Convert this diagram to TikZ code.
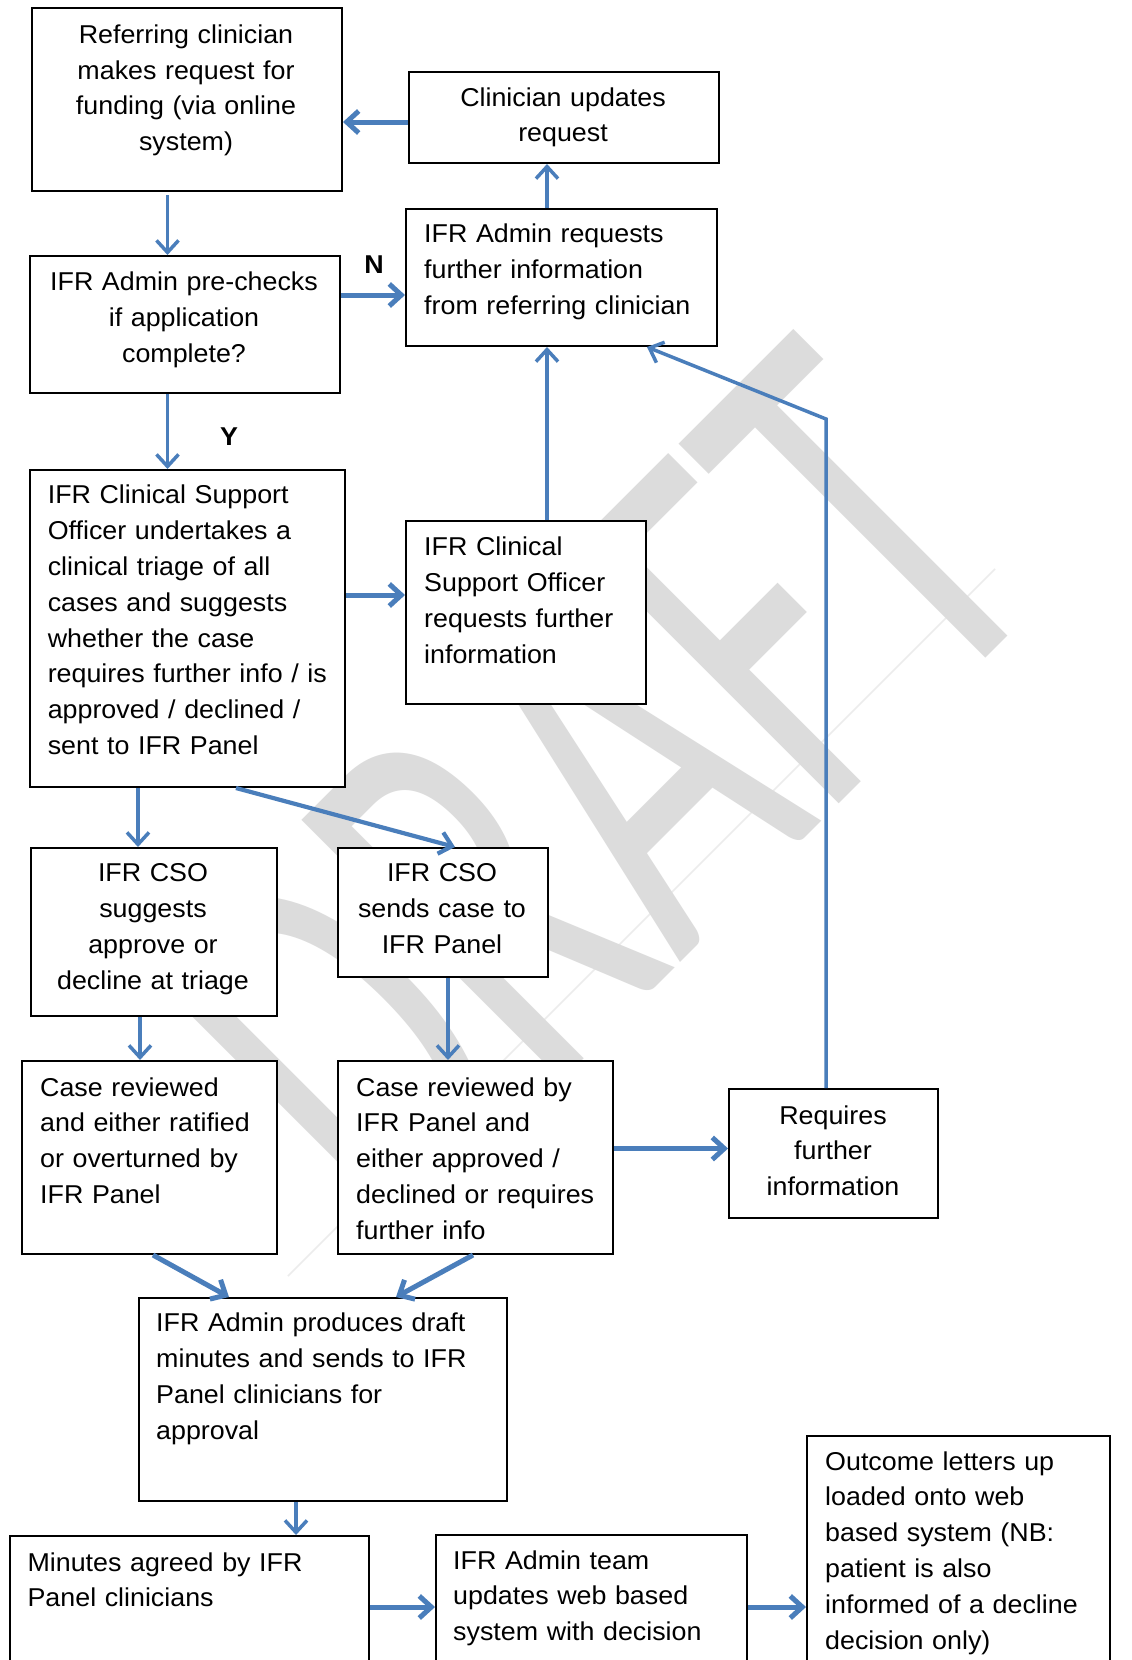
\documentclass[tikz,border=0pt]{standalone}
\usepackage{fontspec}
\setmainfont{Liberation Sans}[FakeStretch=1.04]
\newfontfamily\wmfont{Carlito}
\usetikzlibrary{arrows.meta}
\definecolor{conn}{RGB}{74,126,187}
\definecolor{wm}{RGB}{220,220,220}
\definecolor{wmline}{RGB}{236,236,236}
\begin{document}
\begin{tikzpicture}[x=1pt,y=-1pt,
  box/.style={draw=black, line width=2pt, fill=white, inner sep=0pt, anchor=north west},
  txt/.style={inner sep=0pt, font=\fontsize{25.8}{35.8}\selectfont},
  ltxt/.style={txt, anchor=base west, align=left, text width=330pt},
  ctxt/.style={txt, anchor=base, align=center, text width=300pt},
  arr/.style={draw=conn, line width=3.5pt, -{Straight Barb[length=12pt,width=22pt]}},
  tarr/.style={arr, line width=5pt},
  lbl/.style={inner sep=0pt, font=\fontsize{25.8}{30}\selectfont\bfseries}
]
\useasboundingbox (0,0) rectangle (1132,1660);
\clip (0,0) rectangle (1132,1660);
\fill[white] (0,0) rectangle (1132,1660);

% watermark
\draw[wmline, line width=1.5pt] (288,1276) -- (995,569);
\begin{scope}[shift={(724.6,918.4)}, rotate=45, yscale=1.64]
  \node[transform shape, anchor=base, text=wm, inner sep=0pt,
        font=\wmfont\fontsize{350}{360}\selectfont] (wmk) at (0,0) {DRAFT};
\end{scope}

% boxes
\node[box, minimum width=310pt, minimum height=183pt] (ref) at (31,7) {};
\node[box, minimum width=310pt, minimum height=91pt] (upd) at (408,71) {};
\node[box, minimum width=310pt, minimum height=137pt] (pre) at (29,255) {};
\node[box, minimum width=311pt, minimum height=137pt] (req) at (405,208) {};
\node[box, minimum width=315pt, minimum height=317pt] (tri) at (29,469) {};
\node[box, minimum width=240pt, minimum height=183pt] (csoreq) at (405,520) {};
\node[box, minimum width=246pt, minimum height=168pt] (sug) at (30,847) {};
\node[box, minimum width=210pt, minimum height=129pt] (sends) at (337,847) {};
\node[box, minimum width=255pt, minimum height=193pt] (crA) at (21,1060) {};
\node[box, minimum width=275pt, minimum height=193pt] (crB) at (337,1060) {};
\node[box, minimum width=209pt, minimum height=129pt] (rfi) at (728,1088) {};
\node[box, minimum width=368pt, minimum height=203pt] (prod) at (138,1297) {};
\node[box, minimum width=359pt, minimum height=200pt] (min) at (9,1535) {};
\node[box, minimum width=311pt, minimum height=200pt] (team) at (435,1534) {};
\node[box, minimum width=303pt, minimum height=300pt] (out) at (806,1435) {};

% texts
\node[ctxt] (ref-t) at (186,43.3) {Referring clinician\\makes request for\\funding (via online\\system)};
\node[ctxt] (upd-t) at (563,106) {Clinician updates\\request};
\node[ctxt] (pre-t) at (184,290.7) {IFR Admin pre-checks\\if application\\complete?};
\node[ltxt] (req-t) at (424,242.7) {IFR Admin requests\\further information\\from referring clinician};
\node[ltxt] (tri-t) at (47.6,503.8) {IFR Clinical Support\\Officer undertakes a\\clinical triage of all\\cases and suggests\\whether the case\\requires further info / is\\approved / declined /\\sent to IFR Panel};
\node[ltxt] (csoreq-t) at (424,555.6) {IFR Clinical\\Support Officer\\requests further\\information};
\node[ctxt] (sug-t) at (153,881.8) {IFR CSO\\suggests\\approve or\\decline at triage};
\node[ctxt] (sends-t) at (442,881.8) {IFR CSO\\sends case to\\IFR Panel};
\node[ltxt] (crA-t) at (40,1096) {Case reviewed\\and either ratified\\or overturned by\\IFR Panel};
\node[ltxt] (crB-t) at (356,1096) {Case reviewed by\\IFR Panel and\\either approved /\\declined or requires\\further info};
\node[ctxt] (rfi-t) at (833,1124) {Requires\\further\\information};
\node[ltxt] (prod-t) at (156,1331.7) {IFR Admin produces draft\\minutes and sends to IFR\\Panel clinicians for\\approval};
\node[ltxt] (min-t) at (27.4,1571) {Minutes agreed by IFR\\Panel clinicians};
\node[ltxt] (team-t) at (453,1569) {IFR Admin team\\updates web based\\system with decision};
\node[ltxt] (out-t) at (825,1470) {Outcome letters up\\loaded onto web\\based system (NB:\\patient is also\\informed of a decline\\decision only)};

% labels
\node[lbl] (N) at (374,265) {N};
\node[lbl] (Y) at (229,437) {Y};

% connectors
\draw[tarr] ([yshift=-51pt]upd.north west) -- ([yshift=-115pt]ref.north east);
\draw[arr] ([xshift=136.5pt,yshift=-3pt]ref.south west) -- ([xshift=138.5pt]pre.north west);
\draw[tarr] ([yshift=-40pt]pre.north east) -- ([yshift=-87pt]req.north west);
\draw[arr] ([xshift=138.5pt]pre.south west) -- ([xshift=138.5pt]tri.north west);
\draw[arr] ([xshift=142pt]req.north west) -- ([xshift=139pt]upd.south west);
\draw[arr] ([xshift=142pt]csoreq.north west) -- ([xshift=142pt]req.south west);
\draw[tarr] ([yshift=-126pt]tri.north east) -- ([yshift=-75pt]csoreq.north west);
\coordinate (hk) at (826,419);
\draw[arr] ([xshift=98pt]rfi.north west) -- (hk) -- ([xshift=242pt]req.south west);
\draw[arr] ([xshift=109pt]tri.south west) -- ([xshift=108pt]sug.north west);
\draw[arr, line width=4.2pt] ([xshift=207pt]tri.south west) -- ([xshift=118pt]sends.north west);
\draw[arr] ([xshift=110pt]sug.south west) -- ([xshift=119pt]crA.north west);
\draw[arr] ([xshift=111pt]sends.south west) -- ([xshift=111pt]crB.north west);
\draw[tarr] ([yshift=-88.5pt]crB.north east) -- ([yshift=-60.5pt]rfi.north west);
\draw[tarr] ([xshift=132pt]crA.south west) -- ([xshift=91pt]prod.north west);
\draw[tarr] ([xshift=136pt]crB.south west) -- ([xshift=258pt]prod.north west);
\draw[arr] ([xshift=158pt]prod.south west) -- ([xshift=287pt]min.north west);
\draw[tarr] ([yshift=-72pt]min.north east) -- ([yshift=-73pt]team.north west);
\draw[tarr] ([yshift=-73pt]team.north east) -- ([yshift=-172pt]out.north west);
\end{tikzpicture}
\end{document}
